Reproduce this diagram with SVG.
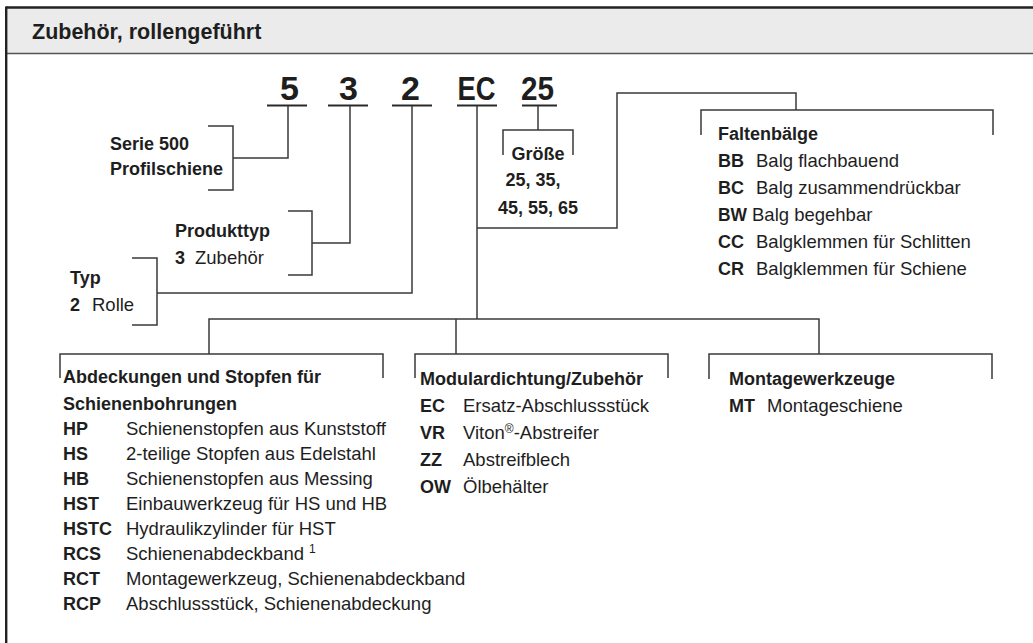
<svg xmlns="http://www.w3.org/2000/svg" width="1033" height="643" viewBox="0 0 1033 643">
<style>
text { font-family: "Liberation Sans", Arial, sans-serif; fill: #1e1e1e; }
.t { font-weight: bold; font-size: 21.5px; }
.b { font-weight: bold; font-size: 18px; }
.r { font-size: 18.5px; }
.code { font-weight: bold; font-size: 34px; text-anchor: middle; }
.mid { text-anchor: middle; }
.ln { stroke: #3a3a3a; stroke-width: 1.5; fill: none; }
.ul { stroke: #2a2a2a; stroke-width: 1.8; fill: none; }
</style>

<g id="frame">
  <rect x="7" y="8" width="1030" height="46" fill="#ebebeb"/>
  <line x1="6" y1="7.5" x2="1033" y2="7.5" stroke="#222" stroke-width="2.5"/>
  <line x1="7" y1="53.5" x2="1033" y2="53.5" stroke="#555" stroke-width="1.5"/>
  <line x1="6.2" y1="6.5" x2="6.2" y2="643" stroke="#222" stroke-width="2.4"/>
  <text class="t" x="32" y="39">Zubehör, rollengeführt</text>
</g>

<g id="code">
  <text class="code" x="289.5" y="100">5</text>
  <text class="code" x="348.5" y="100">3</text>
  <text class="code" x="410.5" y="100">2</text>
  <text class="code" x="476.5" y="100" textLength="38" lengthAdjust="spacingAndGlyphs">EC</text>
  <text class="code" x="537.5" y="100" textLength="33" lengthAdjust="spacingAndGlyphs">25</text>
  <line class="ul" x1="267" y1="105.5" x2="307" y2="105.5"/>
  <line class="ul" x1="328" y1="105.5" x2="368" y2="105.5"/>
  <line class="ul" x1="392" y1="105.5" x2="432" y2="105.5"/>
  <line class="ul" x1="457" y1="105.5" x2="497" y2="105.5"/>
  <line class="ul" x1="522" y1="105.5" x2="557" y2="105.5"/>
</g>

<g id="connectors">
  <polyline class="ln" points="288,106 288,158 233,158"/>
  <polyline class="ln" points="208,126 233,126 233,190 208,190"/>
  <polyline class="ln" points="350,106 350,243 312,243"/>
  <polyline class="ln" points="288,211 312,211 312,275 288,275"/>
  <polyline class="ln" points="412,106 412,293 157,293"/>
  <polyline class="ln" points="132,258 157,258 157,325 132,325"/>
  <line class="ln" x1="538" y1="106" x2="538" y2="130"/>
  <polyline class="ln" points="503,155 503,130 573,130 573,155"/>
  <line class="ln" x1="477" y1="106" x2="477" y2="319"/>
  <polyline class="ln" points="477,228 617,228 617,93 796,93 796,110"/>
  <polyline class="ln" points="701,135 701,110 993,110 993,135"/>
  <polyline class="ln" points="209,354 209,319 819,319 819,354"/>
  <line class="ln" x1="456" y1="319" x2="456" y2="354"/>
  <polyline class="ln" points="60,378 60,354 383,354 383,378"/>
  <polyline class="ln" points="415,378 415,354 668,354 668,378"/>
  <polyline class="ln" points="709,379 709,354 992,354 992,379"/>
</g>

<g id="serie">
  <text class="b" x="110" y="150">Serie 500</text>
  <text class="b" x="110" y="175">Profilschiene</text>
</g>

<g id="produkttyp">
  <text class="b" x="175" y="237">Produkttyp</text>
  <text class="b" x="175" y="264">3</text>
  <text class="r" x="195" y="264">Zubehör</text>
</g>

<g id="typ">
  <text class="b" x="70" y="284">Typ</text>
  <text class="b" x="70" y="311">2</text>
  <text class="r" x="92" y="311">Rolle</text>
</g>

<g id="groesse">
  <text class="b mid" x="538" y="160">Größe</text>
  <text class="b mid" x="533" y="186">25, 35,</text>
  <text class="b mid" x="538" y="214">45, 55, 65</text>
</g>

<g id="faltenbaelge">
  <text class="b" x="718" y="140">Faltenbälge</text>
  <text class="b" x="718" y="167">BB</text><text class="r" x="756" y="167">Balg flachbauend</text>
  <text class="b" x="718" y="194">BC</text><text class="r" x="756" y="194">Balg zusammendrückbar</text>
  <text class="b" x="718" y="221" textLength="29" lengthAdjust="spacingAndGlyphs">BW</text><text class="r" x="752" y="221">Balg begehbar</text>
  <text class="b" x="718" y="248">CC</text><text class="r" x="756" y="248">Balgklemmen für Schlitten</text>
  <text class="b" x="718" y="275">CR</text><text class="r" x="756" y="275">Balgklemmen für Schiene</text>
</g>

<g id="abdeckungen">
  <text class="b" x="63" y="383">Abdeckungen und Stopfen für</text>
  <text class="b" x="63" y="410">Schienenbohrungen</text>
  <text class="b" x="63" y="435">HP</text><text class="r" x="126" y="435">Schienenstopfen aus Kunststoff</text>
  <text class="b" x="63" y="460">HS</text><text class="r" x="126" y="460">2-teilige Stopfen aus Edelstahl</text>
  <text class="b" x="63" y="485">HB</text><text class="r" x="126" y="485">Schienenstopfen aus Messing</text>
  <text class="b" x="63" y="510">HST</text><text class="r" x="126" y="510">Einbauwerkzeug für HS und HB</text>
  <text class="b" x="63" y="535">HSTC</text><text class="r" x="126" y="535">Hydraulikzylinder für HST</text>
  <text class="b" x="63" y="560">RCS</text><text class="r" x="126" y="560">Schienenabdeckband <tspan font-size="12" dy="-7">1</tspan></text>
  <text class="b" x="63" y="585">RCT</text><text class="r" x="126" y="585">Montagewerkzeug, Schienenabdeckband</text>
  <text class="b" x="63" y="610">RCP</text><text class="r" x="126" y="610">Abschlussstück, Schienenabdeckung</text>
</g>

<g id="modulardichtung">
  <text class="b" x="420" y="385">Modulardichtung/Zubehör</text>
  <text class="b" x="420" y="412">EC</text><text class="r" x="463" y="412">Ersatz-Abschlussstück</text>
  <text class="b" x="420" y="439">VR</text><text class="r" x="463" y="439">Viton<tspan font-size="12" dy="-6">®</tspan><tspan dy="6">-Abstreifer</tspan></text>
  <text class="b" x="420" y="466">ZZ</text><text class="r" x="463" y="466">Abstreifblech</text>
  <text class="b" x="420" y="493">OW</text><text class="r" x="463" y="493">Ölbehälter</text>
</g>

<g id="montagewerkzeuge">
  <text class="b" x="729" y="385">Montagewerkzeuge</text>
  <text class="b" x="729" y="412">MT</text><text class="r" x="767" y="412">Montageschiene</text>
</g>
</svg>
